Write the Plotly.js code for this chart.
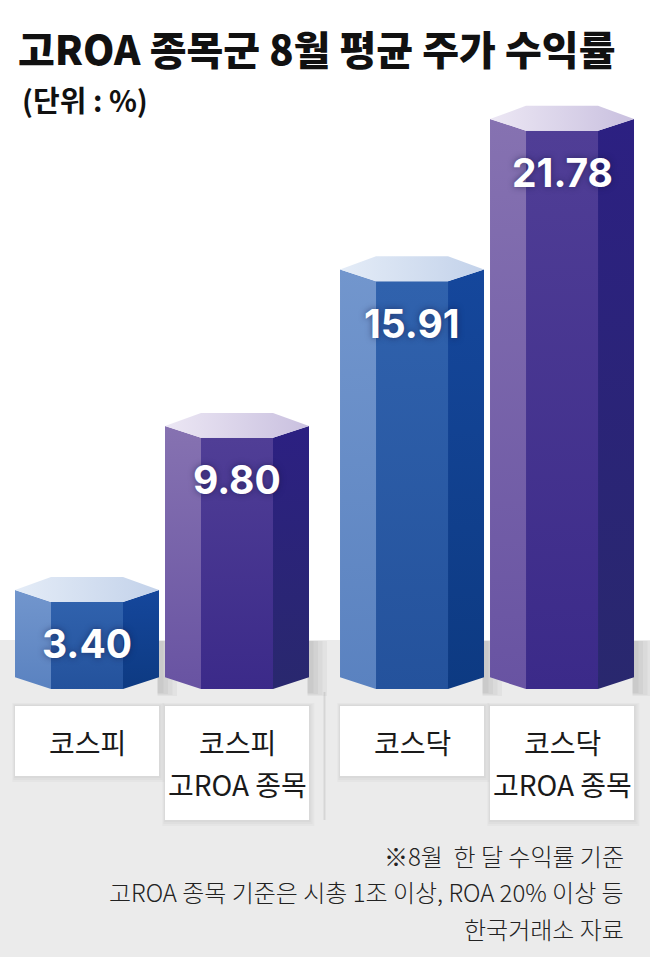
<!DOCTYPE html>
<html>
<head>
<meta charset="utf-8">
<script src="https://cdn.plot.ly/plotly-3.0.1.min.js"></script>
<style>
  body { margin: 0; background: #fff; }
  #chart { width: 650px; height: 960px; }
</style>
</head>
<body>
<div id="chart"></div>
<script>
// data
var categories = ["코스피", "코스피\n고ROA 종목", "코스닥", "코스닥\n고ROA 종목"];
var values = [3.40, 9.80, 15.91, 21.78];
var isHighRoa = [false, true, false, true];
// bar centres on the x axis (pairs are grouped)
var xPos = [0, 1, 2.1667, 3.1667];

var FONT = "'Noto Sans CJK KR', 'Noto Sans', sans-serif";
var NUMFONT = "Inter, 'Noto Sans', sans-serif";
var PX_H = 960, PX_W = 650;
var yRange = [-10.57, 26.88];
var xRange = [-0.58, 3.7533];

function pyPaper(px) { return 1 - px / PX_H; }

var colours = {
  blue: {
    left:  ["#5a82c0", "#7296cd"],
    mid:   ["#24529c", "#3062ad"],
    right: ["#0d3a82", "#15479c"],
    top:   ["#e4ecf7", "#c3d2ea"]
  },
  purple: {
    left:  ["#6853a2", "#8672b1"],
    mid:   ["#3b2a89", "#503e96"],
    right: ["#29286e", "#2c2082"],
    top:   ["#ece7f4", "#c9c0df"]
  }
};

var wOut = 0.48, wIn = 0.24, side = 0.46, back = 0.97;

function face(xs, ys, cs, dir) {
  return {
    x: xs, y: ys, type: "scatter", mode: "lines", fill: "toself",
    line: {width: 0, color: "rgba(0,0,0,0)"},
    fillgradient: {type: dir, colorscale: [[0, cs[0]], [1, cs[1]]]},
    hoverinfo: "skip", showlegend: false
  };
}

var traces = [];
var shapes = [];
var annotations = [];

// grey floor
shapes.push({type: "rect", xref: "paper", yref: "paper", x0: 0, x1: 1,
  y0: pyPaper(957), y1: pyPaper(640), fillcolor: "#ebebeb", line: {width: 0}, layer: "below"});

// divider between groups
var divX = (xPos[1] + xPos[2]) / 2;
shapes.push({type: "line", xref: "x", yref: "paper", x0: divX, x1: divX,
  y0: pyPaper(820), y1: pyPaper(692), line: {color: "#d6d6d6", width: 2}, layer: "below"});

for (var i = 0; i < values.length; i++) {
  var c = xPos[i], v = values[i];
  var pal = isHighRoa[i] ? colours.purple : colours.blue;

  // soft shadow on the floor right of the bar
  for (var k = 1; k <= 4; k++) {
    shapes.push({type: "rect", xref: "x", yref: "paper",
      x0: c + wOut - 0.01, x1: c + wOut + 0.03 * k,
      y0: pyPaper(692 + k), y1: pyPaper(641),
      fillcolor: "rgba(0,0,0,0.035)", line: {width: 0}, layer: "below"});
  }

  traces.push(face([c - wOut, c - wIn, c - wIn, c - wOut, c - wOut],
                   [v + side, v, 0, side, v + side], pal.left, "vertical"));
  traces.push(face([c - wIn, c + wIn, c + wIn, c - wIn, c - wIn],
                   [v, v, 0, 0, v], pal.mid, "vertical"));
  traces.push(face([c + wIn, c + wOut, c + wOut, c + wIn, c + wIn],
                   [v, v + side, side, 0, v], pal.right, "vertical"));
  traces.push(face([c - wOut, c - wIn, c + wIn, c + wOut, c + wIn, c - wIn, c - wOut],
                   [v + side, v + back, v + back, v + side, v, v, v + side], pal.top, "horizontal"));

  annotations.push({
    x: c, y: v, xref: "x", yref: "y", yshift: -42, yanchor: "middle", showarrow: false,
    text: v.toFixed(2),
    font: {family: NUMFONT, size: 39, color: "#ffffff", weight: 700,
           shadow: "0px 0px 6px rgba(20,20,60,0.55)"}
  });

  // label box
  var lines = categories[i].split("\n");
  var boxBottom = lines.length > 1 ? 820 : 776;
  for (var s = 1; s <= 3; s++) {
    shapes.push({type: "rect", xref: "x", yref: "paper",
      x0: c - wOut - 0.006 * s, x1: c + wOut + 0.012 * s,
      y0: pyPaper(boxBottom + 2 * s), y1: pyPaper(706 - s),
      fillcolor: "rgba(0,0,0,0.025)", line: {width: 0}, layer: "below"});
  }
  shapes.push({type: "rect", xref: "x", yref: "paper",
    x0: c - wOut, x1: c + wOut, y0: pyPaper(boxBottom), y1: pyPaper(706),
    fillcolor: "#ffffff", line: {width: 0}, layer: "below"});
  for (var j = 0; j < lines.length; j++) {
    annotations.push({
      x: c, xref: "x", y: pyPaper(742 + 42 * j), yref: "paper",
      yanchor: "middle", showarrow: false,
      text: lines[j], font: {family: FONT, size: 28, color: "#1a1a1a"}
    });
  }
}

// subtitle
annotations.push({x: 20 / PX_W, y: pyPaper(99), xref: "paper", yref: "paper",
  xanchor: "left", yanchor: "middle", showarrow: false, text: "(단위 : %)",
  font: {family: FONT, size: 29, color: "#111111", weight: 700}});

// footnotes
var notes = ["※8월  한 달 수익률 기준", "고ROA 종목 기준은 시총 1조 이상, ROA 20% 이상 등", "한국거래소 자료"];
for (var n = 0; n < notes.length; n++) {
  annotations.push({x: 626 / PX_W, y: pyPaper(855 + 36.5 * n), xref: "paper", yref: "paper",
    xanchor: "right", yanchor: "middle", showarrow: false, text: notes[n],
    font: {family: FONT, size: 24, color: "#222222", weight: 300}});
}

var layout = {
  width: PX_W, height: PX_H,
  margin: {l: 0, r: 0, t: 0, b: 0, pad: 0},
  paper_bgcolor: "#ffffff", plot_bgcolor: "rgba(0,0,0,0)",
  title: {text: "고ROA 종목군 8월 평균 주가 수익률", x: 18 / PX_W, xanchor: "left",
          y: pyPaper(51), yanchor: "middle",
          font: {family: FONT, size: 40, color: "#111111", weight: 900}},
  xaxis: {range: xRange, visible: false, fixedrange: true},
  yaxis: {range: yRange, visible: false, fixedrange: true},
  shapes: shapes,
  annotations: annotations,
  showlegend: false
};

Plotly.newPlot("chart", traces, layout, {displayModeBar: false, staticPlot: true});
</script>
</body>
</html>
